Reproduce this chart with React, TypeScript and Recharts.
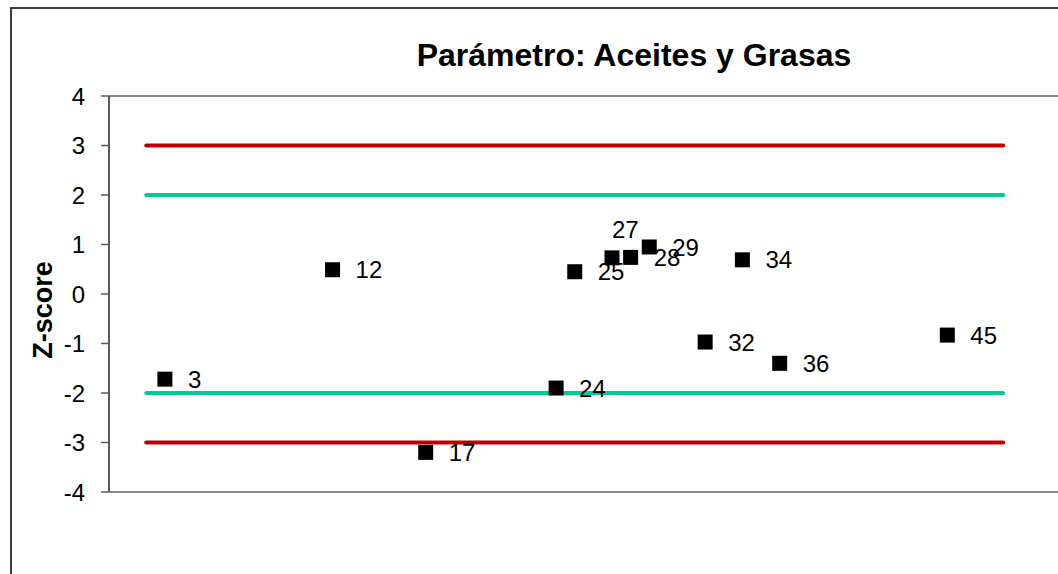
import React from 'react';
import { ScatterChart, Scatter, XAxis, YAxis, ReferenceLine } from 'recharts';

// ---- data ----
const labIds = [3, 12, 17, 24, 25, 27, 28, 29, 32, 34, 36, 45];
const zScores = [-1.72, 0.49, -3.2, -1.9, 0.45, 0.73, 0.74, 0.95, -0.97, 0.69, -1.4, -0.83];
const yTicks = [-4, -3, -2, -1, 0, 1, 2, 3, 4];
const limitSpan = [2, 48];
const actionLimit = 3;
const warningLimit = 2;
const titleText = 'Parámetro: Aceites y Grasas';
const yAxisTitle = 'Z-score';
const labelAboveIds = [27];

const points = labIds.map((id, i) => ({ x: id, y: zScores[i], id }));
const lineAt = (v: number) => limitSpan.map((x) => ({ x, y: v }));

const FONT = '"Liberation Sans", Arial, sans-serif';
const RED = '#C00000';
const TEAL = '#00CC99';

const PointShape = (props: any) => {
  const { cx, cy, payload } = props;
  const s = 15;
  const above = labelAboveIds.includes(payload.id);
  return (
    <g>
      <rect x={cx - s / 2} y={cy - s / 2} width={s} height={s} fill="#000" />
      {above ? (
        <text x={cx} y={cy - 20} fontSize={24} fontFamily={FONT} fill="#000">
          {payload.id}
        </text>
      ) : (
        <text x={cx + 23} y={cy} dy="0.36em" fontSize={24} fontFamily={FONT} fill="#000">
          {payload.id}
        </text>
      )}
    </g>
  );
};

const YTick = (props: any) => {
  const { x, y, payload } = props;
  return (
    <text x={x} y={y} dy="0.36em" textAnchor="end" fontSize={24} fontFamily={FONT} fill="#000">
      {payload.value}
    </text>
  );
};

const Nothing = () => <g />;

export default function App() {
  return (
    <div
      style={{
        position: 'fixed',
        left: 0,
        top: 0,
        width: 1058,
        height: 574,
        overflow: 'hidden',
        background: '#fff',
      }}
    >
      <div
        style={{
          position: 'absolute',
          left: 10,
          top: 7,
          width: 1200,
          height: 700,
          border: '2px solid #3c3c3c',
          boxSizing: 'border-box',
        }}
      />
      <div style={{ position: 'absolute', left: 0, top: 0 }}>
        <ScatterChart
          width={1140}
          height={600}
          margin={{ top: 96, right: 25, bottom: 106, left: 49 }}
        >
          <XAxis
            type="number"
            dataKey="x"
            domain={[0, 54]}
            tick={false}
            tickLine={false}
            axisLine={{ stroke: '#868686', strokeWidth: 2 }}
            height={2}
          />
          <YAxis
            type="number"
            dataKey="y"
            domain={[-4, 4]}
            ticks={yTicks}
            interval={0}
            width={60}
            tickSize={8}
            tickMargin={16}
            axisLine={{ stroke: '#5a5a5a', strokeWidth: 2 }}
            tickLine={{ stroke: '#5a5a5a', strokeWidth: 1.5 }}
            tick={<YTick />}
            label={{
              content: () => (
                <text
                  x={0}
                  y={0}
                  transform="translate(52,310) rotate(-90)"
                  textAnchor="middle"
                  fontSize={27}
                  fontWeight="bold"
                  fontFamily={FONT}
                  fill="#000"
                >
                  {yAxisTitle}
                </text>
              ),
            }}
          />
          <ReferenceLine y={4} stroke="#868686" strokeWidth={2} ifOverflow="visible" />
          <Scatter
            data={lineAt(actionLimit)}
            line={{ stroke: RED, strokeWidth: 4, strokeLinecap: 'round' }}
            shape={Nothing}
            isAnimationActive={false}
          />
          <Scatter
            data={lineAt(warningLimit)}
            line={{ stroke: TEAL, strokeWidth: 4, strokeLinecap: 'round' }}
            shape={Nothing}
            isAnimationActive={false}
          />
          <Scatter
            data={lineAt(-warningLimit)}
            line={{ stroke: TEAL, strokeWidth: 4, strokeLinecap: 'round' }}
            shape={Nothing}
            isAnimationActive={false}
          />
          <Scatter
            data={lineAt(-actionLimit)}
            line={{ stroke: RED, strokeWidth: 4, strokeLinecap: 'round' }}
            shape={Nothing}
            isAnimationActive={false}
          />
          <Scatter data={points} shape={PointShape} isAnimationActive={false} />
        </ScatterChart>
      </div>
      <svg
        width={1058}
        height={80}
        style={{ position: 'absolute', left: 0, top: 0, pointerEvents: 'none' }}
      >
        <text
          x={634}
          y={66}
          textAnchor="middle"
          fontSize={32}
          fontWeight="bold"
          fontFamily={FONT}
          fill="#000"
        >
          {titleText}
        </text>
      </svg>
    </div>
  );
}
